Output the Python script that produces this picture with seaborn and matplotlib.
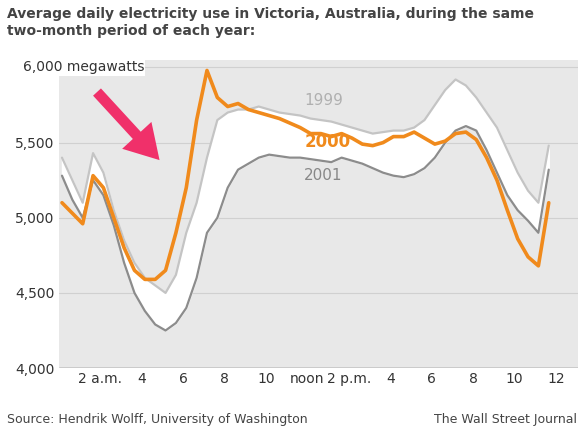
import matplotlib.pyplot as plt
import seaborn as sns
import pandas as pd

# half-hour readings, megawatts
slot = list(range(48))
use_1999 = [5400, 5250, 5100, 5430, 5300, 5050, 4850, 4700, 4600, 4550, 4500, 4620,
            4900, 5100, 5400, 5650, 5700, 5720, 5720, 5740, 5720, 5700, 5690, 5680,
            5660, 5650, 5640, 5620, 5600, 5580, 5560, 5570, 5580, 5580, 5600, 5650,
            5750, 5850, 5920, 5880, 5800, 5700, 5600, 5450, 5300, 5180, 5100, 5480]
use_2000 = [5100, 5030, 4960, 5280, 5200, 5000, 4800, 4650, 4590, 4590, 4650, 4900,
            5200, 5650, 5980, 5800, 5740, 5760, 5720, 5700, 5680, 5660, 5630, 5600,
            5560, 5560, 5540, 5560, 5530, 5490, 5480, 5500, 5540, 5540, 5570, 5530,
            5490, 5510, 5560, 5570, 5520, 5400, 5250, 5050, 4860, 4740, 4680, 5100]
use_2001 = [5280, 5120, 5000, 5250, 5150, 4950, 4700, 4500, 4380, 4290, 4250, 4300,
            4400, 4600, 4900, 5000, 5200, 5320, 5360, 5400, 5420, 5410, 5400, 5400,
            5390, 5380, 5370, 5400, 5380, 5360, 5330, 5300, 5280, 5270, 5290, 5330,
            5400, 5500, 5580, 5610, 5580, 5450, 5300, 5150, 5050, 4980, 4900, 5320]
tick_hours = [2, 4, 6, 8, 10, 12, 14, 16, 18, 20, 22, 24]
tick_labels = ["2 a.m.", "4", "6", "8", "10", "noon", "2 p.m.", "4", "6", "8", "10", "12"]
y_ticks = [4000, 4500, 5000, 5500, 6000]

df = pd.DataFrame({"hour": [s * 0.5 for s in slot],
                   "1999": use_1999, "2000": use_2000, "2001": use_2001})

sns.set_style("white")
plt.rcParams["font.family"] = ["DejaVu Sans"]
fig = plt.figure(figsize=(5.83, 4.44), dpi=100)
ax = fig.add_axes([0.101, 0.171, 0.89, 0.694])
ax.set_facecolor("#e8e8e8")

ax.fill_between(df["hour"], df["2001"], df["1999"], color="white", zorder=1)
for y in y_ticks[1:]:
    ax.axhline(y, color="#d0d0d0", lw=0.8, zorder=0.5)
sns.lineplot(data=df, x="hour", y="1999", color="#c4c4c4", lw=1.6, ax=ax, zorder=2)
sns.lineplot(data=df, x="hour", y="2001", color="#8c8c8c", lw=1.6, ax=ax, zorder=2)
sns.lineplot(data=df, x="hour", y="2000", color="#f08a1c", lw=2.6, ax=ax, zorder=3)

ax.set_xlim(-0.15, 24.9)
ax.set_ylim(4000, 6050)
ax.set_xticks([h - 0.15 for h in tick_hours])
ax.set_xticklabels(tick_labels, fontsize=10, color="#333333")
ax.set_yticks(y_ticks)
ax.set_yticklabels(["4,000", "4,500", "5,000", "5,500", ""], fontsize=10, color="#333333")
ax.text(-0.07, 6000, "6,000 megawatts", transform=ax.get_yaxis_transform(),
        fontsize=10, color="#333333", va="center", ha="left",
        bbox=dict(facecolor="white", edgecolor="none", pad=1))
ax.tick_params(length=0, pad=3)
ax.set_xlabel("")
ax.set_ylabel("")
for s in ax.spines.values():
    s.set_visible(False)
ax.axhline(4000, color="#555555", lw=1)

ax.text(11.7, 5750, "1999", color="#b0b0b0", fontsize=11)
ax.text(11.7, 5470, "2000", color="#f08a1c", fontsize=12, fontweight="bold")
ax.text(11.7, 5250, "2001", color="#888888", fontsize=11)

ax.annotate("", xy=(4.8, 5370), xytext=(1.6, 5850),
            arrowprops=dict(arrowstyle="simple,head_length=1.1,head_width=1.3,tail_width=0.35",
                            color="#f0306a", mutation_scale=22, lw=0),
            zorder=4)

fig.text(0.012, 0.985, "Average daily electricity use in Victoria, Australia, during the same\ntwo-month period of each year:",
         fontsize=10, fontweight="bold", color="#444444", va="top", linespacing=1.3)
fig.text(0.012, 0.055, "Source: Hendrik Wolff, University of Washington", fontsize=9, color="#444444", va="center")
fig.text(0.99, 0.055, "The Wall Street Journal", fontsize=9, color="#444444", va="center", ha="right")

fig.savefig("out.png", dpi=100, facecolor="white")
